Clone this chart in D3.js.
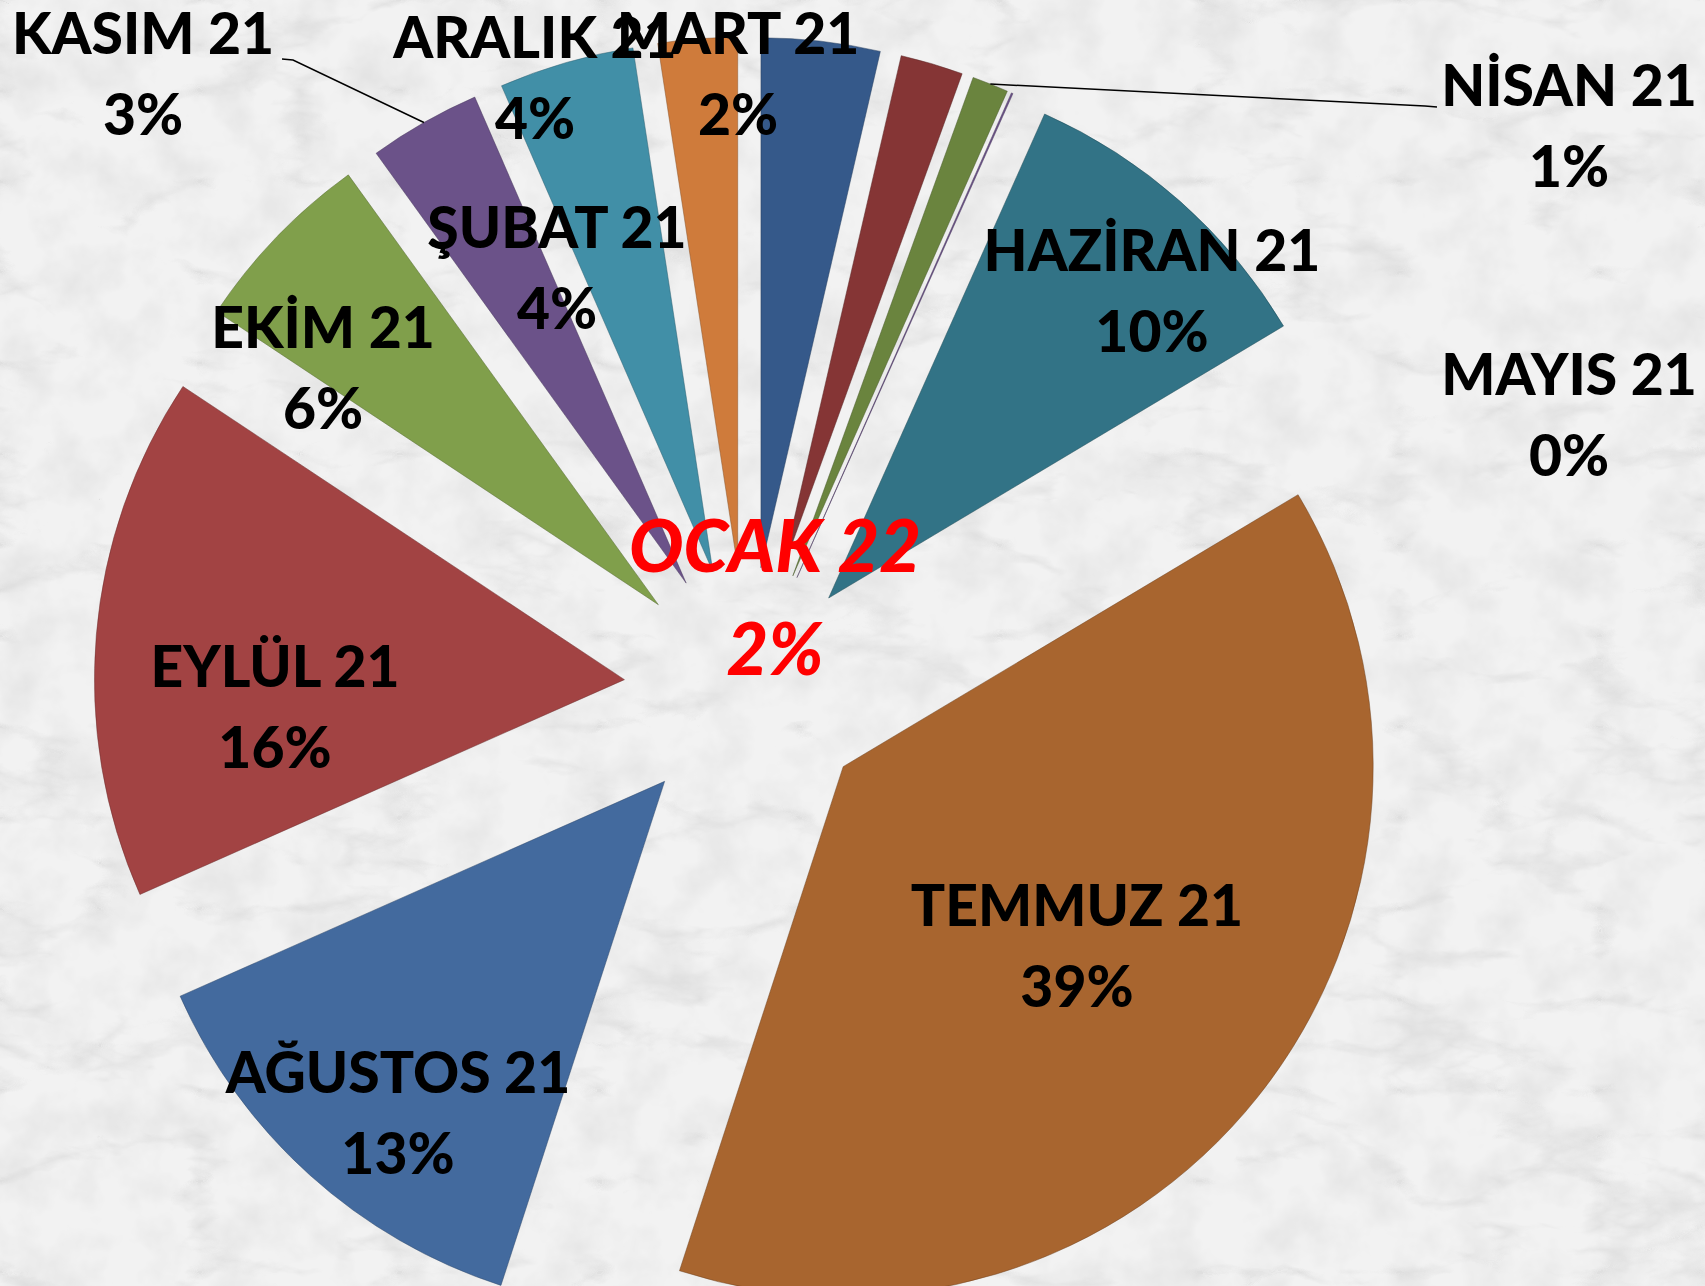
<!DOCTYPE html>
<html>
<head>
<meta charset="utf-8">
<script src="https://cdn.jsdelivr.net/npm/d3@7"></script>
<style>
  body { margin: 0; background: #f0f0f0; }
  svg { display: block; }
</style>
</head>
<body>
<div id="chart"></div>
<script>
const width = 1705, height = 1286;

// data, clockwise from 12 o'clock
const months = ["ŞUBAT 21", "MART 21", "NİSAN 21", "MAYIS 21", "HAZİRAN 21", "TEMMUZ 21",
  "AĞUSTOS 21", "EYLÜL 21", "EKİM 21", "KASIM 21", "ARALIK 21", "OCAK 22"];
const values = [3.6, 1.9, 1.1, 0.05, 9.7, 38.4, 13.3, 15.9, 5.7, 3.4, 4.1, 2.4];
const colors = ["#35598a", "#853535", "#6a843e", "#6b5289", "#327386", "#a8652f",
  "#436a9e", "#a24343", "#809f4b", "#6b5289", "#418fa7", "#cf7b3b"];

// where the data labels sit (center x, baseline of first line)
const labelX = [557, 738, 1569, 1569, 1152, 1077, 398, 275, 323, 143, 535, 775];
const labelY = [248, 54, 106, 395, 271, 926, 1093, 687, 348, 54, 58, 572];
// labels pulled away from their slice get a leader line (label-side end)
const leaders = { 2: [[1437, 107], [1425, 106]], 9: [[282, 59], [293, 60]] };

const cx = 747, cy = 690, radius = 530, explode = 123;

const svg = d3.select("#chart").append("svg")
  .attr("width", width)
  .attr("height", height);

// marble background
const defs = svg.append("defs");
const marble = defs.append("filter").attr("id", "marble")
  .attr("x", 0).attr("y", 0).attr("width", "100%").attr("height", "100%");
marble.append("feTurbulence")
  .attr("type", "turbulence")
  .attr("baseFrequency", "0.005 0.011")
  .attr("numOctaves", 5)
  .attr("seed", 7)
  .attr("result", "veins");
marble.append("feColorMatrix")
  .attr("in", "veins")
  .attr("type", "matrix")
  .attr("values", "0 0 0 0 0.6  0 0 0 0 0.6  0 0 0 0 0.6  -2.2 0 0 0 0.45");

const grain = defs.append("filter").attr("id", "grain")
  .attr("x", 0).attr("y", 0).attr("width", "100%").attr("height", "100%");
grain.append("feTurbulence")
  .attr("type", "fractalNoise")
  .attr("baseFrequency", "0.02")
  .attr("numOctaves", 4)
  .attr("seed", 2);
grain.append("feColorMatrix")
  .attr("type", "matrix")
  .attr("values", "0 0 0 0 0.7  0 0 0 0 0.7  0 0 0 0 0.7  1.1 0 0 0 -0.45");

svg.append("rect").attr("width", width).attr("height", height).attr("fill", "#f2f2f2");
svg.append("rect").attr("width", width).attr("height", height).attr("filter", "url(#marble)");
svg.append("rect").attr("width", width).attr("height", height).attr("filter", "url(#grain)");

const total = d3.sum(values);
const pie = d3.pie().sort(null).value(d => d)(values);
const arc = d3.arc().innerRadius(0).outerRadius(radius);
const rim = d3.arc().innerRadius(radius).outerRadius(radius);

function offset(d) {
  const mid = (d.startAngle + d.endAngle) / 2;
  return [Math.sin(mid) * explode, -Math.cos(mid) * explode];
}

const g = svg.append("g").attr("transform", `translate(${cx},${cy})`);

g.selectAll("path.slice")
  .data(pie)
  .join("path")
  .attr("class", "slice")
  .attr("transform", d => `translate(${offset(d)})`)
  .attr("d", arc)
  .attr("fill", (d, i) => colors[i])
  .attr("stroke", (d, i) => d3.color(colors[i]).darker(1.2))
  .attr("stroke-width", 0.8)
  .attr("stroke-opacity", 0.6);

// leader lines
Object.keys(leaders).forEach(k => {
  const d = pie[k];
  const [ox, oy] = offset(d);
  const [rx, ry] = rim.centroid(d);
  const pts = leaders[k].map(p => [p[0] - cx, p[1] - cy]).concat([[rx + ox, ry + oy]]);
  g.append("path")
    .attr("d", d3.line()(pts))
    .attr("fill", "none")
    .attr("stroke", "#000")
    .attr("stroke-width", 1.5);
});

// data labels
const fmt = d => Math.round(d / total * 100) + "%";
const labels = svg.append("g")
  .attr("font-family", "Lato, 'Open Sans', sans-serif")
  .attr("font-weight", 900)
  .attr("text-anchor", "middle");

months.forEach((m, i) => {
  const last = i === months.length - 1;
  const t = labels.append("text")
    .attr("x", labelX[i])
    .attr("y", labelY[i])
    .attr("font-size", last ? 72 : 57)
    .attr("font-style", last ? "italic" : null)
    .attr("fill", last ? "#ff0000" : "#000");
  t.append("tspan").attr("x", labelX[i]).text(m);
  t.append("tspan").attr("x", labelX[i]).attr("dy", last ? 103 : 81).text(fmt(values[i]));
});
</script>
</body>
</html>
